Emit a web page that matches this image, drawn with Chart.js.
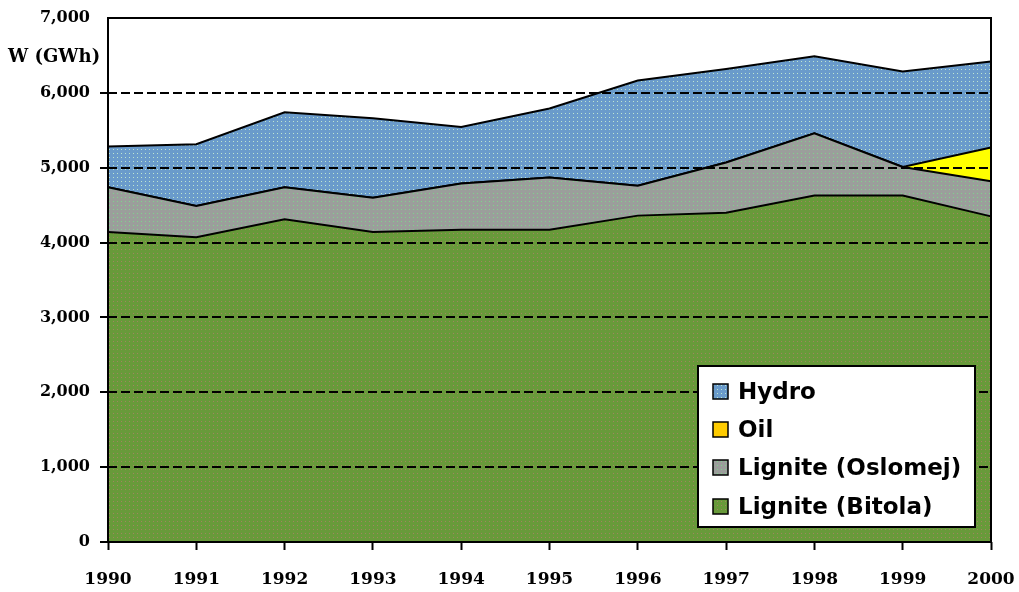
<!DOCTYPE html>
<html>
<head>
<meta charset="utf-8">
<script src="https://cdn.jsdelivr.net/npm/chart.js@4.4.1/dist/chart.umd.min.js"></script>
<style>
html,body{margin:0;padding:0;background:#fff;}
#wrap{position:relative;width:1019px;height:592px;}
</style>
</head>
<body>
<div id="wrap"><canvas id="c" width="1019" height="592"></canvas></div>
<script>
// ---- data ----
const years = ['1990','1991','1992','1993','1994','1995','1996','1997','1998','1999','2000'];
const ligniteBitola  = [4140, 4070, 4310, 4140, 4170, 4170, 4360, 4400, 4630, 4630, 4350];
const ligniteOslomej = [ 600,  420,  430,  460,  620,  700,  400,  670,  830,  380,  470];
const oil            = [   0,    0,    0,    0,    0,    0,    0,    0,    0,    0,  450];
const hydro          = [ 545,  825, 1000, 1060,  755,  920, 1405, 1250, 1030, 1275, 1150];
const seriesNames = ['Lignite (Bitola)', 'Lignite (Oslomej)', 'Oil', 'Hydro'];
const yTicks = [0, 1000, 2000, 3000, 4000, 5000, 6000, 7000];
const yTitle = 'W (GWh)';

function makePattern(base, dot){
  const p = document.createElement('canvas');
  p.width = 4; p.height = 4;
  const g = p.getContext('2d');
  g.fillStyle = base; g.fillRect(0,0,4,4);
  g.fillStyle = dot; g.fillRect(1,1,1,1);
  return g.createPattern(p, 'repeat');
}
const ctx0 = document.getElementById('c').getContext('2d');
const patBitola = makePattern('#689a3a', '#a08660');
const patOslomej = makePattern('#9b9e9b', '#7fd38c');
const patHydro = makePattern('#6a9bcb', '#bfe6cf');
const colOil = '#ffff00';

const legendSwatch = {
  'Hydro': patHydro,
  'Oil': '#ffcc00',
  'Lignite (Oslomej)': patOslomej,
  'Lignite (Bitola)': patBitola
};

const frameLegendPlugin = {
  id: 'frameLegend',
  afterDraw(chart){
    const c = chart.ctx, a = chart.chartArea;
    c.save();
    c.setLineDash([]);
    // frame
    c.strokeStyle = '#000'; c.lineWidth = 2;
    c.strokeRect(a.left, a.top, a.right - a.left, a.bottom - a.top);
    // y title
    c.fillStyle = '#000';
    c.font = 'bold 18px "DejaVu Serif"';
    c.textAlign = 'left'; c.textBaseline = 'middle';
    c.fillText(yTitle, 8, 57);
    // legend box
    const lx = 698, ly = 366, lw = 277, lh = 161;
    c.fillStyle = '#fff';
    c.fillRect(lx, ly, lw, lh);
    c.lineWidth = 2; c.strokeStyle = '#000';
    c.strokeRect(lx, ly, lw, lh);
    const order = [3, 2, 1, 0];
    const rows = [392, 430, 468, 507];
    c.font = 'bold 23px "DejaVu Sans"';
    c.textBaseline = 'middle';
    order.forEach((di, i) => {
      const name = chart.data.datasets[di].label;
      const cy = rows[i];
      c.fillStyle = legendSwatch[name];
      c.fillRect(713, cy - 8, 15, 15);
      c.lineWidth = 1.5; c.strokeStyle = '#000';
      c.strokeRect(713, cy - 8, 15, 15);
      c.fillStyle = '#000';
      c.fillText(name, 738, cy + 1);
    });
    c.restore();
  }
};

const tickFontY = {family: '"DejaVu Serif"', size: 16, weight: 'bold'};
const tickFontX = {family: '"DejaVu Serif"', size: 17, weight: 'bold'};

new Chart(ctx0, {
  type: 'line',
  data: {
    labels: years,
    datasets: [
      {label: seriesNames[0], data: ligniteBitola, backgroundColor: patBitola, fill: 'origin'},
      {label: seriesNames[1], data: ligniteOslomej, backgroundColor: patOslomej, fill: '-1'},
      {label: seriesNames[2], data: oil, backgroundColor: colOil, fill: '-1'},
      {label: seriesNames[3], data: hydro, backgroundColor: patHydro, fill: '-1'}
    ].map(d => Object.assign(d, {borderColor: '#000', borderWidth: 2, pointRadius: 0, tension: 0}))
  },
  options: {
    responsive: false,
    animation: false,
    layout: {padding: {left: 0, top: 18, right: 28, bottom: 0}},
    plugins: {legend: {display: false}, tooltip: {enabled: false}},
    scales: {
      x: {
        offset: false,
        grid: {drawOnChartArea: false, drawTicks: true, tickLength: 8, tickColor: '#000', tickWidth: 2},
        border: {display: false},
        ticks: {color: '#000', font: tickFontX, padding: 19, maxRotation: 0, autoSkip: false},
        afterFit(s){ s.height = 50; s.paddingLeft = 0; s.paddingRight = 0; }
      },
      y: {
        stacked: true,
        min: yTicks[0], max: yTicks[yTicks.length - 1],
        afterBuildTicks(s){ s.ticks = yTicks.map(v => ({value: v})); },
        grid: {
          z: 1,
          color: c => (c.tick && (c.tick.value === yTicks[0] || c.tick.value === yTicks[yTicks.length-1])) ? 'rgba(0,0,0,0)' : '#000',
          lineWidth: 2,
          tickLength: 8,
          tickColor: c => (c.tick && c.tick.value === yTicks[yTicks.length-1]) ? 'rgba(0,0,0,0)' : '#000',
          tickWidth: 2,
          tickBorderDash: []
        },
        border: {display: false, dash: [9, 4]},
        ticks: {color: '#000', font: tickFontY, padding: 10,
          callback: v => Number(v).toLocaleString('en-US')},
        afterFit(s){ s.width = 108; s.paddingTop = 0; s.paddingBottom = 0; }
      }
    }
  },
  plugins: [frameLegendPlugin]
});
</script>
</body>
</html>
